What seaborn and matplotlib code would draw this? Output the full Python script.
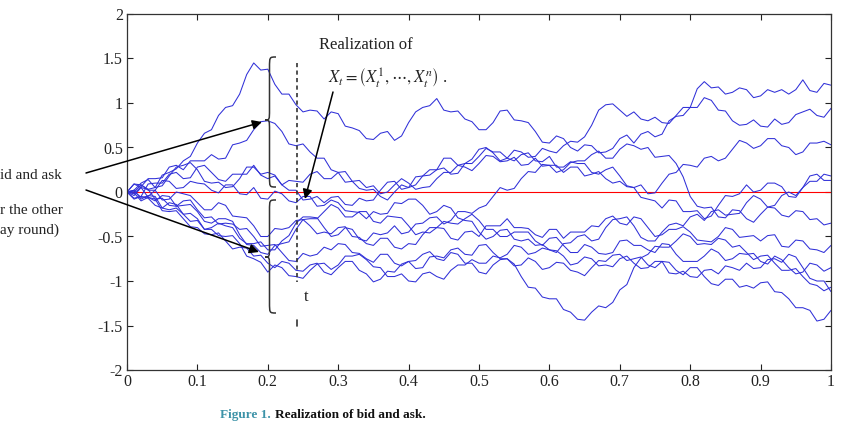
import numpy as np
import pandas as pd
import matplotlib
matplotlib.use("Agg")
import matplotlib.pyplot as plt
from matplotlib.path import Path
from matplotlib.patches import PathPatch
import seaborn as sns

# ---- data (x = 0, 0.01, ..., 1.0) ----
path_1 = [0.00,0.09,0.08,0.03,0.05,0.19,0.22,0.26,0.35,0.40,0.55,0.66,0.70,0.86,0.95,0.97,1.10,1.32,1.45,1.37,1.38,
          1.21,1.10,1.10,0.98,0.90,0.92,0.91,0.82,0.90,0.88,0.74,0.72,0.69,0.60,0.59,0.66,0.68,0.58,0.63,0.78,0.90,
          0.95,0.97,1.05,0.92,0.90,0.91,0.82,0.79,0.70,0.70,0.78,0.91,0.92,0.81,0.80,0.78,0.68,0.56,0.55,0.63,0.60,
          0.50,0.46,0.53,0.52,0.44,0.45,0.49,0.60,0.64,0.55,0.65,0.68,0.62,0.65,0.80,0.85,0.86,0.95,0.95,1.06,1.03,
          0.92,0.91,0.80,0.75,0.76,0.81,0.74,0.73,0.82,0.76,0.78,0.87,0.90,0.93,0.86,0.84,0.94]
path_2 = [0.00,-0.02,0.06,0.15,0.15,0.16,0.28,0.30,0.25,0.35,0.35,0.35,0.42,0.37,0.38,0.53,0.55,0.58,0.70,0.79,0.80,
          0.77,0.68,0.54,0.52,0.54,0.45,0.38,0.38,0.25,0.22,0.23,0.12,0.04,0.02,0.03,-0.05,-0.09,0.00,0.08,0.05,0.08,
          0.18,0.25,0.25,0.38,0.38,0.30,0.32,0.37,0.48,0.50,0.44,0.35,0.38,0.47,0.45,0.39,0.40,0.49,0.46,0.44,0.52,
          0.57,0.56,0.62,0.75,0.92,0.98,0.99,0.92,0.85,0.90,0.82,0.80,0.84,0.78,0.77,0.86,0.95,0.95,1.16,1.24,1.17,
          1.18,1.10,1.12,1.17,1.15,1.06,1.08,1.15,1.12,1.15,1.10,1.15,1.26,1.14,1.12,1.22,1.20]
path_3 = [0.00,-0.07,-0.05,0.09,0.10,0.10,0.20,0.22,0.15,0.16,0.28,0.30,0.22,0.14,0.12,0.20,0.20,0.20,0.30,0.19,0.15,
          0.18,0.08,0.13,0.12,0.11,0.20,0.23,0.15,0.15,0.22,0.11,0.12,0.13,0.05,0.07,-0.02,0.00,0.08,0.15,0.10,0.03,
          0.05,0.06,0.15,0.22,0.22,0.30,0.28,0.24,0.32,0.41,0.40,0.34,0.35,0.39,0.30,0.31,0.38,0.29,0.30,0.30,0.22,
          0.28,0.28,0.18,0.20,0.23,0.15,0.10,0.12,0.06,0.05,0.08,-0.02,-0.01,0.10,0.20,0.22,0.31,0.30,0.28,0.38,0.40,
          0.35,0.38,0.48,0.58,0.55,0.49,0.52,0.60,0.60,0.52,0.50,0.42,0.45,0.55,0.55,0.57,0.53]
path_4 = [0.00,0.02,0.10,0.14,0.05,0.07,0.18,0.28,0.30,0.33,0.25,0.12,0.10,0.11,0.05,0.06,0.15,0.28,0.28,0.20,0.22,
          0.19,0.08,0.02,0.02,-0.09,-0.08,-0.05,-0.12,-0.06,-0.05,-0.14,-0.15,-0.07,-0.10,-0.09,0.02,0.11,0.12,0.03,
          0.05,0.17,0.18,0.19,0.25,0.27,0.20,0.21,0.32,0.32,0.40,0.49,0.45,0.45,0.38,0.35,0.42,0.44,0.35,0.34,0.40,
          0.28,0.28,0.34,0.32,0.32,0.22,0.20,0.25,0.28,0.18,0.07,0.05,-0.06,-0.08,-0.10,-0.18,-0.09,-0.10,-0.22,
          -0.22,-0.21,-0.30,-0.27,-0.15,-0.04,-0.05,-0.02,0.08,0.00,0.02,0.10,0.10,0.06,-0.05,-0.06,0.05,0.18,0.20,
          0.13,0.13]
path_5 = [0.00,0.02,-0.08,-0.04,-0.05,-0.18,-0.20,-0.18,-0.25,-0.33,-0.32,-0.42,-0.40,-0.35,-0.38,-0.40,-0.52,-0.58,
          -0.58,-0.56,-0.65,-0.65,-0.55,-0.49,-0.35,-0.28,-0.28,-0.29,-0.40,-0.50,-0.48,-0.40,-0.42,-0.53,-0.55,-0.46,
          -0.48,-0.46,-0.38,-0.47,-0.45,-0.36,-0.35,-0.29,-0.28,-0.36,-0.32,-0.22,-0.22,-0.24,-0.18,-0.15,-0.05,0.05,
          0.02,0.04,0.15,0.23,0.22,0.31,0.30,0.22,0.25,0.33,0.35,0.35,0.42,0.46,0.38,0.38,0.48,0.54,0.52,0.48,0.50,
          0.39,0.40,0.41,0.32,0.17,-0.05,-0.16,-0.18,-0.17,-0.28,-0.29,-0.20,-0.21,-0.30,-0.34,-0.25,-0.17,-0.18,
          -0.26,-0.28,-0.21,-0.22,-0.31,-0.30,-0.37,-0.35]
path_6 = [0.00,0.09,0.05,-0.06,-0.10,-0.04,-0.05,-0.16,-0.15,-0.14,-0.22,-0.33,-0.35,-0.30,-0.30,-0.33,-0.48,-0.59,
          -0.60,-0.68,-0.70,-0.60,-0.58,-0.56,-0.42,-0.31,-0.30,-0.30,-0.22,-0.14,-0.18,-0.28,-0.28,-0.22,-0.22,-0.33,
          -0.35,-0.27,-0.28,-0.29,-0.38,-0.48,-0.45,-0.46,-0.40,-0.41,-0.52,-0.54,-0.45,-0.44,-0.50,-0.38,-0.38,-0.38,
          -0.30,-0.40,-0.40,-0.41,-0.48,-0.51,-0.42,-0.42,-0.52,-0.45,-0.45,-0.45,-0.38,-0.39,-0.30,-0.27,-0.35,-0.37,
          -0.28,-0.30,-0.40,-0.50,-0.48,-0.42,-0.42,-0.39,-0.45,-0.54,-0.55,-0.56,-0.50,-0.40,-0.42,-0.51,-0.50,-0.49,
          -0.55,-0.49,-0.48,-0.61,-0.62,-0.54,-0.55,-0.64,-0.65,-0.68,-0.60]
path_7 = [0.00,-0.01,-0.10,-0.06,-0.08,-0.21,-0.22,-0.21,-0.30,-0.39,-0.40,-0.47,-0.48,-0.46,-0.55,-0.64,-0.62,-0.63,
          -0.72,-0.71,-0.80,-0.85,-0.78,-0.80,-0.88,-0.89,-0.82,-0.80,-0.90,-0.93,-0.85,-0.78,-0.78,-0.88,-0.92,-1.01,
          -0.98,-0.89,-0.90,-0.81,-0.78,-0.86,-0.85,-0.73,-0.72,-0.74,-0.65,-0.63,-0.70,-0.71,-0.60,-0.59,-0.68,-0.75,
          -0.75,-0.81,-0.95,-1.07,-1.08,-1.18,-1.20,-1.20,-1.32,-1.35,-1.43,-1.44,-1.35,-1.28,-1.30,-1.24,-1.10,-1.04,
          -0.85,-0.74,-0.70,-0.61,-0.62,-0.62,-0.55,-0.47,-0.50,-0.59,-0.58,-0.59,-0.52,-0.54,-0.62,-0.60,-0.68,-0.76,
          -0.72,-0.71,-0.80,-0.88,-0.88,-0.86,-0.95,-1.03,-1.05,-1.11,-1.07]
path_8 = [0.00,-0.08,-0.05,-0.07,-0.15,-0.18,-0.12,-0.14,-0.25,-0.24,-0.30,-0.42,-0.42,-0.49,-0.50,-0.49,-0.58,-0.72,
          -0.75,-0.79,-0.90,-0.82,-0.85,-0.94,-0.95,-0.97,-0.88,-0.81,-0.80,-0.87,-0.82,-0.72,-0.72,-0.70,-0.76,-0.84,
          -0.85,-0.95,-0.95,-0.92,-1.00,-1.01,-0.92,-0.90,-0.95,-0.98,-0.88,-0.82,-0.82,-0.76,-0.80,-0.80,-0.72,-0.74,
          -0.70,-0.60,-0.62,-0.70,-0.68,-0.63,-0.65,-0.66,-0.72,-0.82,-0.80,-0.73,-0.75,-0.83,-0.82,-0.84,-0.75,-0.72,
          -0.80,-0.86,-0.85,-0.78,-0.78,-0.91,-0.92,-0.89,-0.95,-0.96,-0.88,-0.87,-0.92,-0.83,-0.85,-0.88,-0.80,-0.86,
          -0.85,-0.76,-0.75,-0.79,-0.70,-0.73,-0.85,-0.97,-1.00,-1.00,-1.12]
path_9 = [0.00,-0.04,0.05,0.03,-0.08,-0.07,-0.15,-0.16,-0.10,-0.09,-0.20,-0.29,-0.28,-0.36,-0.35,-0.36,-0.42,-0.41,
          -0.50,-0.61,-0.60,-0.59,-0.68,-0.77,-0.78,-0.69,-0.72,-0.70,-0.62,-0.65,-0.58,-0.59,-0.68,-0.69,-0.75,-0.79,
          -0.70,-0.70,-0.80,-0.83,-0.78,-0.77,-0.70,-0.67,-0.75,-0.77,-0.68,-0.70,-0.80,-0.80,-0.90,-0.92,-0.82,-0.76,
          -0.75,-0.83,-0.82,-0.74,-0.78,-0.87,-0.85,-0.79,-0.80,-0.88,-0.90,-0.94,-0.85,-0.77,-0.78,-0.71,-0.70,-0.77,
          -0.75,-0.73,-0.82,-0.85,-0.78,-0.79,-0.88,-0.93,-0.85,-0.85,-0.95,-1.03,-1.05,-0.98,-0.98,-1.07,-1.05,-1.08,
          -1.02,-1.01,-1.12,-1.13,-1.20,-1.30,-1.30,-1.33,-1.45,-1.43,-1.33]
path_10 = [0.00,0.00,0.08,0.02,0.02,0.13,0.12,0.04,0.05,0.12,0.10,0.09,0.02,-0.01,0.08,0.08,-0.02,-0.03,0.05,-0.07,
           -0.08,0.01,-0.02,-0.10,-0.12,-0.05,-0.05,-0.16,-0.15,-0.09,-0.12,-0.21,-0.22,-0.23,-0.30,-0.22,-0.25,-0.24,
           -0.12,-0.13,-0.08,-0.08,-0.15,-0.25,-0.22,-0.15,-0.18,-0.29,-0.32,-0.33,-0.45,-0.53,-0.50,-0.43,-0.42,-0.53,
           -0.55,-0.53,-0.60,-0.59,-0.65,-0.68,-0.58,-0.57,-0.50,-0.48,-0.55,-0.53,-0.40,-0.31,-0.30,-0.28,-0.38,-0.51,
           -0.55,-0.55,-0.45,-0.37,-0.35,-0.38,-0.28,-0.25,-0.32,-0.22,-0.20,-0.26,-0.25,-0.24,-0.12,-0.04,-0.08,-0.17,
           -0.15,-0.04,0.00,-0.04,0.05,0.12,0.12,0.20,0.18]
path_11 = [0.00,0.01,-0.06,-0.05,0.02,-0.09,-0.08,0.00,-0.02,-0.04,-0.12,-0.20,-0.20,-0.12,-0.15,-0.27,-0.28,-0.29,
           -0.38,-0.50,-0.50,-0.41,-0.42,-0.40,-0.32,-0.31,-0.38,-0.47,-0.45,-0.47,-0.40,-0.39,-0.50,-0.51,-0.58,-0.60,
           -0.52,-0.52,-0.62,-0.64,-0.58,-0.59,-0.48,-0.40,-0.40,-0.33,-0.35,-0.36,-0.30,-0.25,-0.32,-0.42,-0.42,-0.50,
           -0.50,-0.45,-0.45,-0.45,-0.55,-0.60,-0.52,-0.51,-0.60,-0.68,-0.68,-0.59,-0.62,-0.69,-0.70,-0.68,-0.55,-0.54,
           -0.60,-0.60,-0.65,-0.68,-0.58,-0.59,-0.70,-0.78,-0.78,-0.78,-0.72,-0.64,-0.68,-0.77,-0.75,-0.69,-0.70,-0.69,
           -0.78,-0.81,-0.72,-0.76,-0.85,-0.92,-0.90,-0.80,-0.82,-0.89,-0.85]

paths = [path_1, path_2, path_3, path_4, path_5, path_6, path_7, path_8, path_9, path_10, path_11]

x_ticks = [0, 0.1, 0.2, 0.3, 0.4, 0.5, 0.6, 0.7, 0.8, 0.9, 1]
x_tick_labels = ["0", "0.1", "0.2", "0.3", "0.4", "0.5", "0.6", "0.7", "0.8", "0.9", "1"]
y_ticks = [-2, -1.5, -1, -0.5, 0, 0.5, 1, 1.5, 2]
y_tick_labels = ["-2", "-1.5", "-1", "-0.5", "0", "0.5", "1", "1.5", "2"]

# ---- build long table ----
rows = []
for k, p in enumerate(paths):
    t = np.linspace(0, 1, len(p))
    for ti, v in zip(t, p):
        rows.append({"t": ti, "X": v, "path": k})
df = pd.DataFrame(rows)

sns.set_style("ticks")
plt.rcParams["font.family"] = ["Liberation Serif", "DejaVu Serif"]
plt.rcParams["mathtext.fontset"] = "stix"

W, H = 849, 444
fig = plt.figure(figsize=(W / 100, H / 100), dpi=100)
ax = fig.add_axes([127 / W, 1 - 370 / H, (831 - 127) / W, (370 - 14) / H])

sns.lineplot(data=df, x="t", y="X", hue="path", palette=["#3030d8"] * len(paths),
             legend=False, linewidth=0.75, estimator=None, sort=False, ax=ax)
ax.axhline(0, color="red", lw=0.8, zorder=1)

ax.set_xlim(0, 1)
ax.set_ylim(-2, 2)
ax.set_xticks(x_ticks)
ax.set_xticklabels(x_tick_labels)
ax.set_yticks(y_ticks)
ax.set_yticklabels(y_tick_labels)
ax.set_xlabel("")
ax.set_ylabel("")
ax.tick_params(direction="in", length=4, width=0.8, top=True, right=True,
               labelsize=11.5, colors="#222222", pad=3)
for s in ax.spines.values():
    s.set_linewidth(0.9)
    s.set_color("#333333")


def px2d(px, py):
    return ((px - 127) / 704.0, (192 - py) / 89.0)


def brace(x_cusp, x_mid, x_end, y_top, y_mid, y_bot):
    verts = [
        (x_end, y_top),
        (x_mid, y_top), (x_mid, y_top), (x_mid, y_top - 0.12),
        (x_mid, y_mid + 0.12),
        (x_mid, y_mid), (x_mid, y_mid), (x_cusp, y_mid),
        (x_mid, y_mid), (x_mid, y_mid), (x_mid, y_mid - 0.12),
        (x_mid, y_bot + 0.12),
        (x_mid, y_bot), (x_mid, y_bot), (x_end, y_bot),
    ]
    codes = [Path.MOVETO,
             Path.CURVE4, Path.CURVE4, Path.CURVE4,
             Path.LINETO,
             Path.CURVE4, Path.CURVE4, Path.CURVE4,
             Path.CURVE4, Path.CURVE4, Path.CURVE4,
             Path.LINETO,
             Path.CURVE4, Path.CURVE4, Path.CURVE4]
    ax.add_patch(PathPatch(Path(verts, codes), fill=False, lw=1.1, color="#333333", zorder=5))


xc, _ = px2d(265, 0)
xm, _ = px2d(269.5, 0)
xe, _ = px2d(276, 0)
brace(xc, xm, xe, px2d(0, 57)[1], px2d(0, 120)[1], px2d(0, 187)[1])
brace(xc, xm, xe, px2d(0, 200)[1], px2d(0, 257)[1], px2d(0, 313)[1])

# dashed vertical line at t
xd, _ = px2d(297, 0)
ax.plot([xd, xd], [px2d(0, 63)[1], px2d(0, 282)[1]], ls=(0, (2.5, 2)), color="#333333", lw=1.2, zorder=5)
ax.plot([xd, xd], [px2d(0, 320)[1], px2d(0, 326)[1]], color="#333333", lw=1.2, zorder=5)
ax.text(*px2d(306, 297), "t", fontsize=12, ha="center", va="center", color="#222222")

# annotation arrows
arrow_kw = dict(arrowstyle="-|>", color="black", lw=1.1, mutation_scale=14, shrinkA=0, shrinkB=0)
ax.annotate("", xy=px2d(262, 122), xytext=px2d(86, 173), xycoords="data",
            arrowprops=arrow_kw, annotation_clip=False)
ax.annotate("", xy=px2d(259, 252), xytext=px2d(86, 190), xycoords="data",
            arrowprops=arrow_kw, annotation_clip=False)
ax.annotate("", xy=px2d(305, 199), xytext=px2d(333, 92), xycoords="data",
            arrowprops=arrow_kw, annotation_clip=False)

ax.text(*px2d(366, 45), "Realization of", fontsize=12, ha="center", va="center", color="#222222")
ax.text(*px2d(328, 78), r"$X_t=\left(X_t^1,\cdots,X_t^n\right)$ .", fontsize=12,
        ha="left", va="center", color="#222222")

# left text, as much of it as the picture shows
fig.text(0, 1 - 175 / H, "id and ask", fontsize=11, ha="left", va="center", color="#222222")
fig.text(0, 1 - 210 / H, "r the other", fontsize=11, ha="left", va="center", color="#222222")
fig.text(0, 1 - 230 / H, "ay round)", fontsize=11, ha="left", va="center", color="#222222")

# caption
cap1 = fig.text(220 / W, 1 - 415 / H, "Figure 1.", fontsize=9.5, fontweight="bold",
                color="#3d93a8", ha="left", va="center")
fig.canvas.draw()
bb = cap1.get_window_extent()
fig.text((bb.x1 + 4) / W, 1 - 415 / H, "Realization of bid and ask.", fontsize=9.5,
         fontweight="bold", color="#111111", ha="left", va="center")

fig.savefig("out.png", dpi=100)
